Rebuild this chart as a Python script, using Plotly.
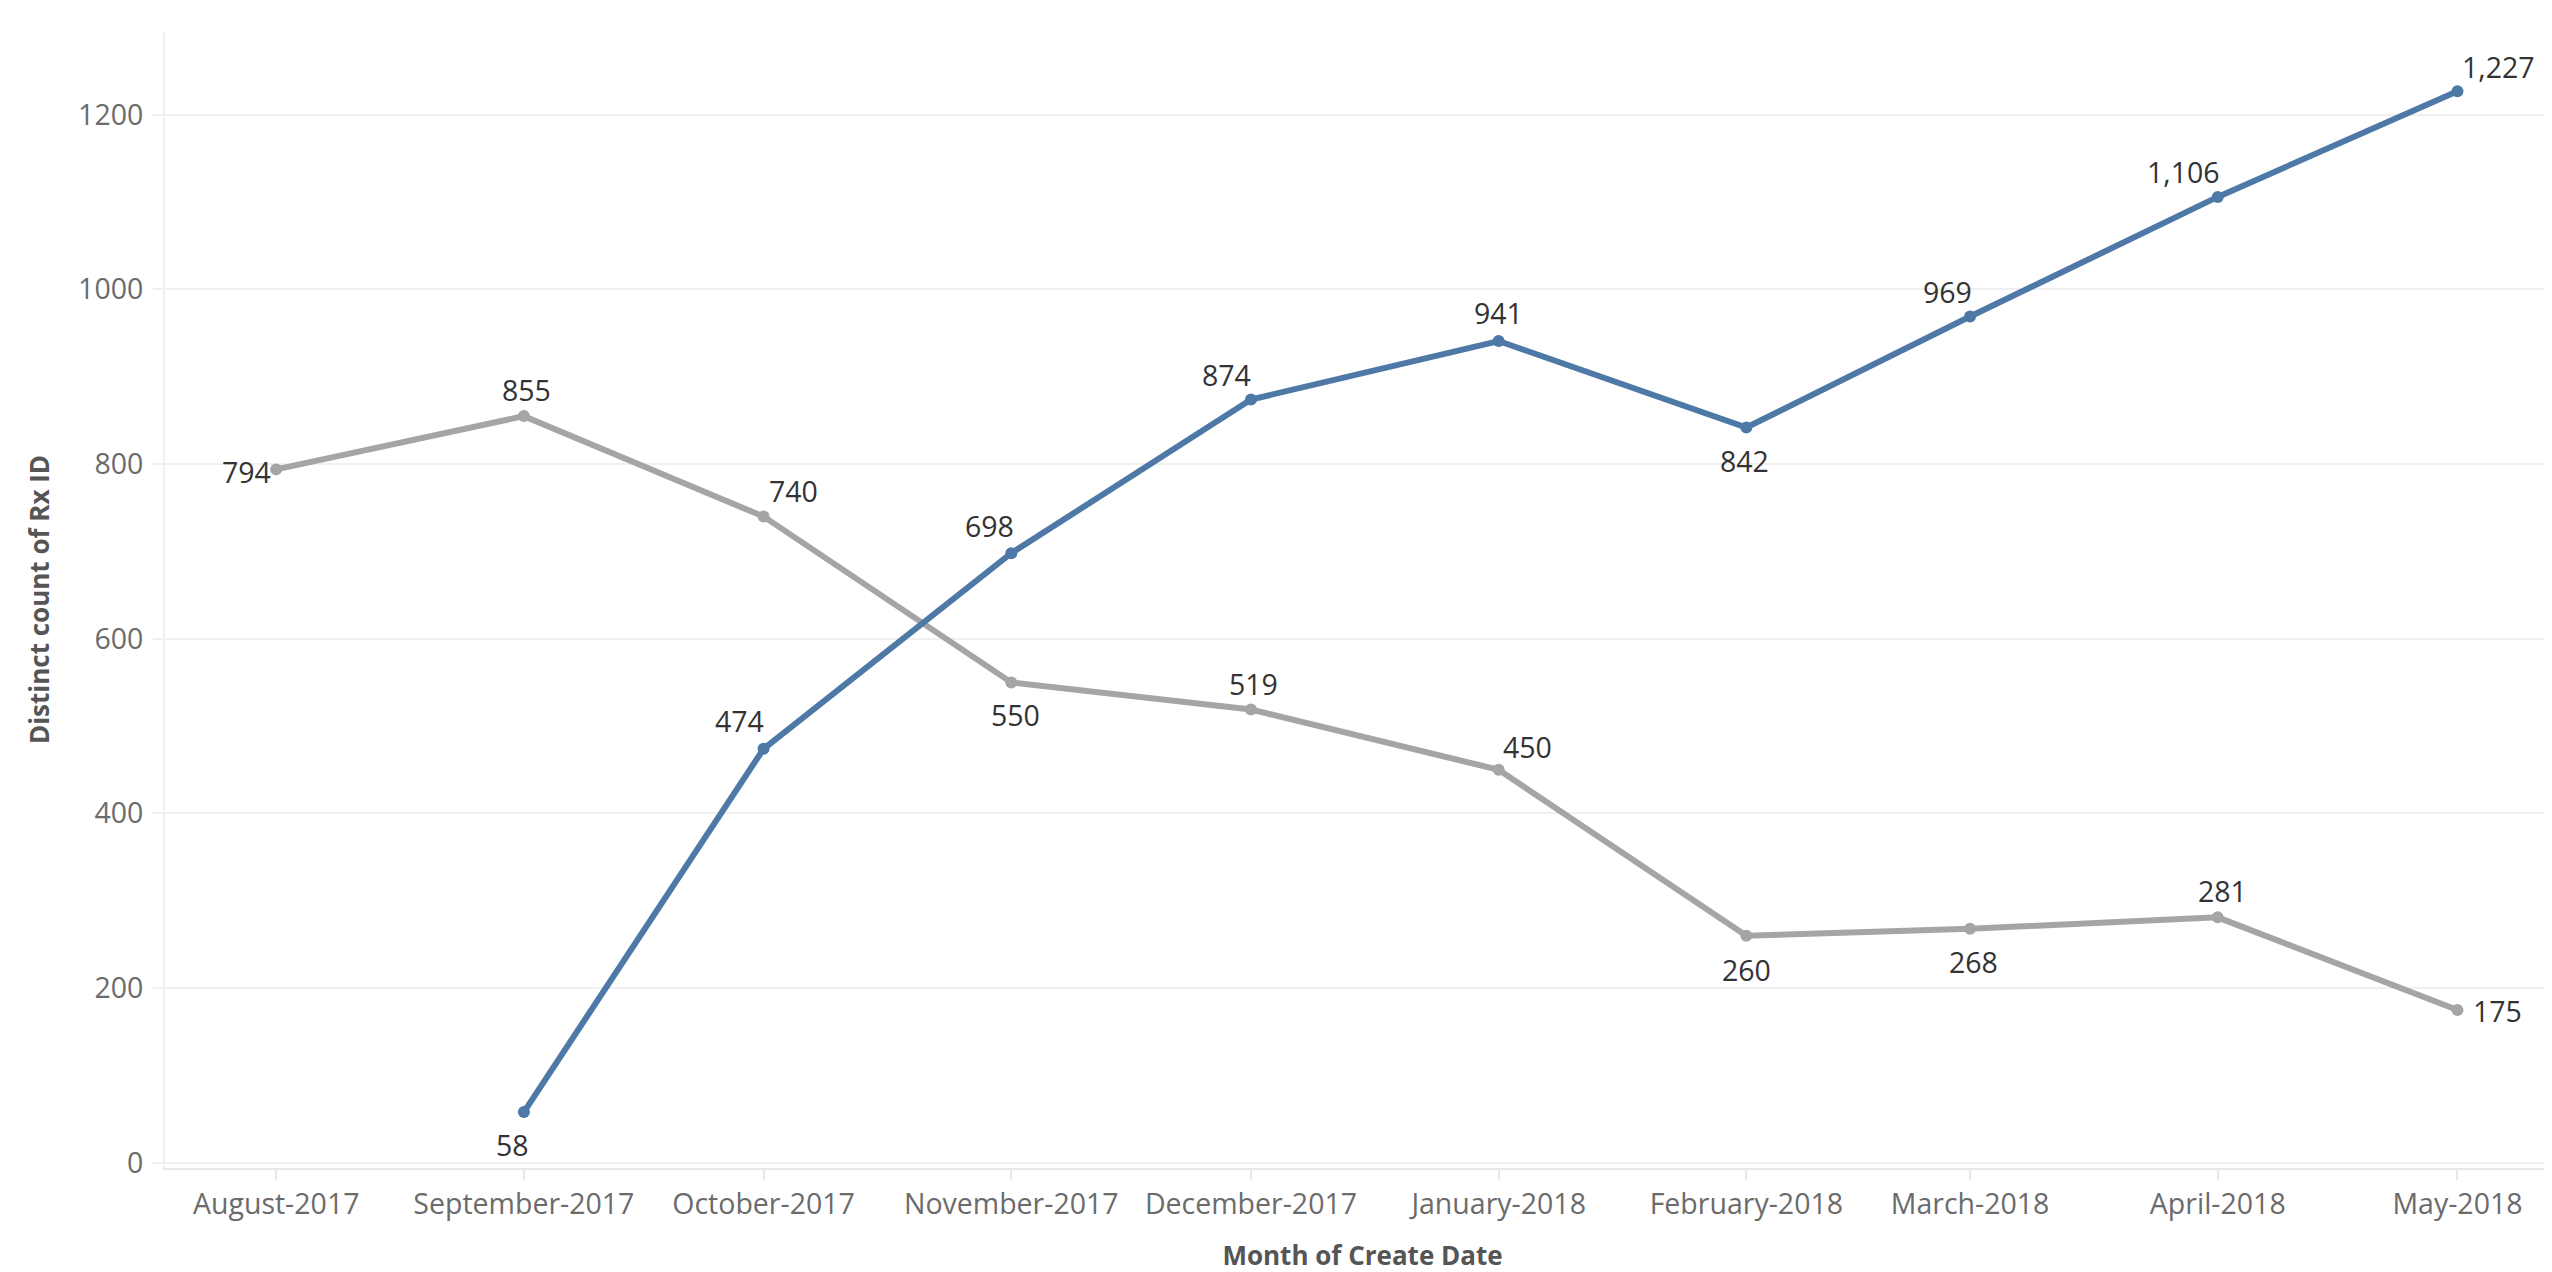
import plotly.graph_objects as go

months = ["2017-08-01", "2017-09-01", "2017-10-01", "2017-11-01", "2017-12-01",
          "2018-01-01", "2018-02-01", "2018-03-01", "2018-04-01", "2018-05-01"]
tick_labels = ["August-2017", "September-2017", "October-2017", "November-2017",
               "December-2017", "January-2018", "February-2018", "March-2018",
               "April-2018", "May-2018"]

blue_months = months[1:]
blue_values = [58, 474, 698, 874, 941, 842, 969, 1106, 1227]

gray_months = months
gray_values = [794, 855, 740, 550, 519, 450, 260, 268, 281, 175]

# label offsets (px, dx right, dy down) - styling only
blue_offsets = [(-11, 33), (-24, -28), (-22, -27), (-24, -25), (0, -28),
                (-2, 34), (-23, -25), (-34, -25), (41, -24)]
gray_offsets = [(-30, 3), (3, -26), (30, -26), (4, 33), (3, -26),
                (29, -23), (0, 34), (3, 33), (5, -26), (40, 1)]

BLUE = "#4e79a7"
GRAY = "#a5a5a5"
FONT = "Open Sans"

fig = go.Figure()
fig.add_trace(go.Scatter(x=gray_months, y=gray_values, mode="lines+markers",
                         line=dict(color=GRAY, width=6),
                         marker=dict(color=GRAY, size=12), showlegend=False))
fig.add_trace(go.Scatter(x=blue_months, y=blue_values, mode="lines+markers",
                         line=dict(color=BLUE, width=6),
                         marker=dict(color=BLUE, size=12), showlegend=False))

annotations = []
for xs, ys, offs in [(gray_months, gray_values, gray_offsets),
                     (blue_months, blue_values, blue_offsets)]:
    for x, y, (dx, dy) in zip(xs, ys, offs):
        annotations.append(dict(x=x, y=y, text=f"{y:,}", showarrow=False,
                                xanchor="center", yanchor="middle",
                                xshift=dx, yshift=-dy,
                                font=dict(family=FONT, size=28.5, color="#333333")))

fig.update_layout(
    width=2552, height=1272,
    margin=dict(l=157, r=0, t=23, b=112),
    plot_bgcolor="white", paper_bgcolor="white",
    annotations=annotations,
    font=dict(family=FONT),
)
fig.update_xaxes(
    type="date",
    range=["2017-07-18 02:00", "2018-05-13 20:00"],
    tickvals=months, ticktext=tick_labels,
    showgrid=False, zeroline=False,
    showline=True, linecolor="#e8e8e8", linewidth=2,
    ticks="outside", ticklen=10, tickcolor="#e8e8e8", tickwidth=2,
    tickfont=dict(family=FONT, size=28.5, color="#6b6b6b"),
    title=dict(text="<b>Month of Create Date</b>", standoff=26,
               font=dict(family=FONT, size=26, color="#555555")),
    automargin=False,
)
fig.update_yaxes(
    range=[-6, 1296],
    tickvals=[0, 200, 400, 600, 800, 1000, 1200],
    showgrid=True, gridcolor="#f0f0f0", gridwidth=2, zeroline=False,
    showline=True, linecolor="#f0f0f0", linewidth=2,
    ticks="outside", ticklen=10, tickcolor="#f0f0f0", tickwidth=2,
    ticklabelstandoff=4,
    tickfont=dict(family=FONT, size=28.5, color="#6b6b6b"),
    title=dict(text="<b>Distinct count of Rx ID</b>", standoff=21,
               font=dict(family=FONT, size=26, color="#555555")),
    automargin=False,
)

fig.write_html("out.html")
